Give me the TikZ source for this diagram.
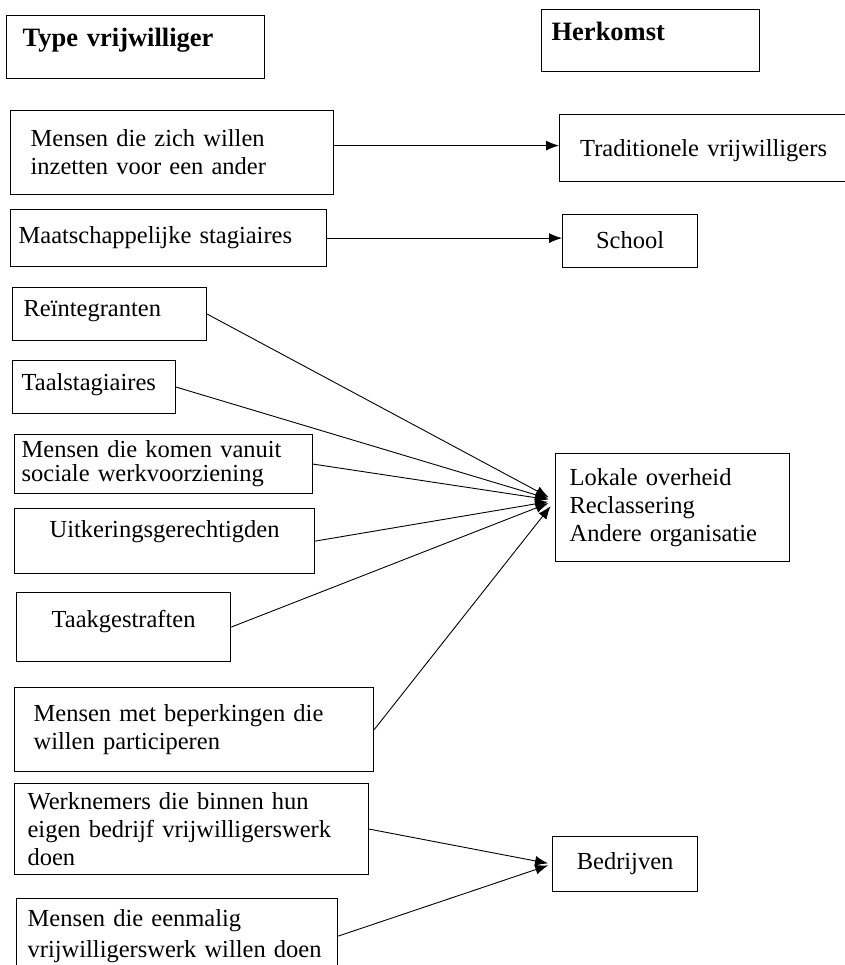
\documentclass[tikz,border=0pt]{standalone}
\usepackage{fontspec}
\setmainfont{Liberation Serif}
\usetikzlibrary{arrows.meta}

\begin{document}
\begin{tikzpicture}[
    x=1pt, y=-1pt,
    vak/.style={rectangle, draw, line width=1.2pt, anchor=north west, inner ysep=0pt,
        align=left, font=\fontsize{24.5}{28}\selectfont},
    kop/.style={vak, font=\fontsize{26.5}{30}\selectfont\bfseries},
    lijn/.style={-{Latex[length=13pt,width=10pt]}, line width=0.9pt}
]
\useasboundingbox (0,0) rectangle (844,965);

% Headers
\node[kop, inner xsep=16pt, text width=226pt, text height=31pt, text depth=32pt] (typ) at (6,15) {Type vrijwilliger};
\node[kop, inner xsep=10pt, text width=198pt, text height=31pt, text depth=31pt] (herkomst) at (541,9) {Herkomst};

% Type vrijwilliger
\node[vak, inner xsep=20pt, text width=283pt, minimum height=84pt] (zich) at (10,110) {Mensen die zich willen\\inzetten voor een ander};
\node[vak, inner xsep=8pt, text width=300pt, text height=34pt, text depth=23pt] (maat) at (10,209) {Maatschappelijke stagiaires};
\node[vak, inner xsep=11pt, text width=172pt, text height=29pt, text depth=24pt] (rein) at (12,287) {Reïntegranten};
\node[vak, inner xsep=9pt, text width=145pt, text height=30pt, text depth=23pt] (taal) at (12,360) {Taalstagiaires};
\node[vak, inner xsep=7pt, text width=284pt, minimum height=59pt, font=\fontsize{24.5}{24}\selectfont] (komen) at (14,434) {Mensen die komen vanuit\\sociale werkvoorziening};
\node[vak, align=center, inner xsep=5pt, text width=290pt, text height=29pt, text depth=36pt] (uitk) at (14,508) {Uitkeringsgerechtigden};
\node[vak, align=center, inner xsep=5pt, text width=204pt, text height=35pt, text depth=34pt] (taak) at (16,592) {Taakgestraften};
\node[vak, inner xsep=19pt, text width=321pt, minimum height=84pt] (beperk) at (14,687) {Mensen met beperkingen die\\willen participeren};
\node[vak, inner xsep=13pt, text width=328pt, minimum height=91pt] (werkn) at (14,783) {Werknemers die binnen hun\\eigen bedrijf vrijwilligerswerk\\doen};
\node[vak, inner xsep=11pt, text width=299pt, minimum height=75pt, font=\fontsize{24.5}{31}\selectfont] (eenmalig) at (16,898) {Mensen die eenmalig\\vrijwilligerswerk willen doen};

% Herkomst
\node[vak, align=center, inner xsep=10pt, text width=268pt, text height=42pt, text depth=25pt] (trad) at (559,114) {Traditionele vrijwilligers};
\node[vak, align=center, inner xsep=5pt, text width=125pt, text height=34pt, text depth=19pt] (school) at (562,214) {School};
\node[vak, inner xsep=14pt, text width=206pt, minimum height=108pt] (lokale) at (555,453) {Lokale overheid\\Reclassering\\Andere organisatie};
\node[vak, align=center, inner xsep=5pt, text width=135pt, text height=33pt, text depth=22pt] (bedr) at (552,836) {Bedrijven};

% Arrows
\draw[lijn] ([yshift=7pt]zich.east) -- ([yshift=7pt]zich.east -| trad.west);
\draw[lijn] (maat.east) -- (maat.east -| school.west);
\foreach \bron in {rein, taal, komen, uitk, taak, beperk}
    \draw[lijn, shorten >=7pt] (\bron.east) -- ([yshift=7pt]lokale.west);
\foreach \bron in {werkn, eenmalig}
    \draw[lijn, shorten >=4pt] (\bron.east) -- (bedr.west);

\end{tikzpicture}
\end{document}
